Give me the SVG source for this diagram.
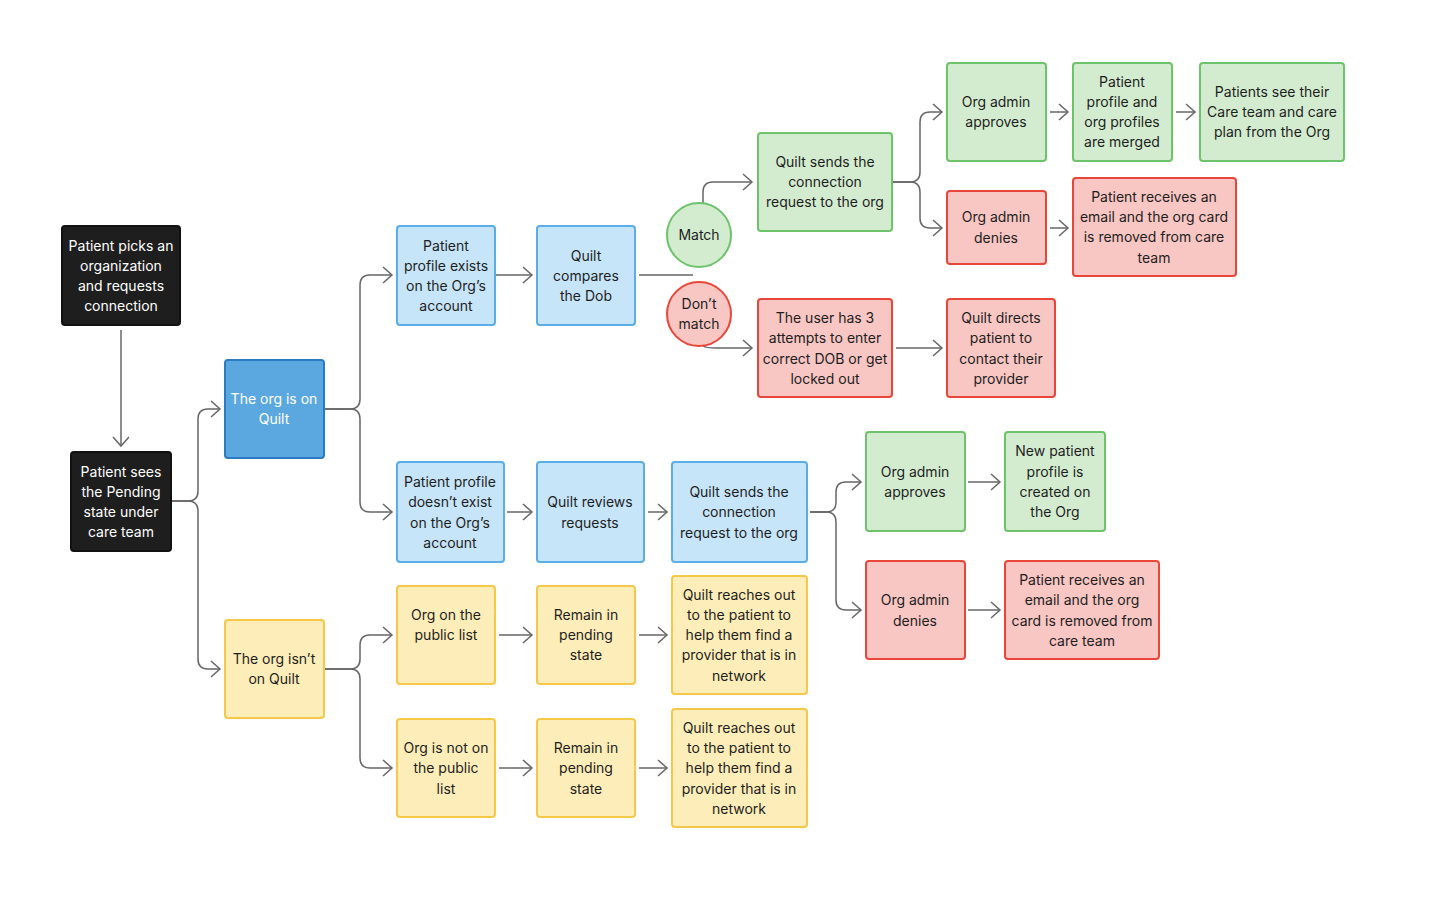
<svg xmlns="http://www.w3.org/2000/svg" width="1447" height="900" viewBox="0 0 1447 900">
<style>
text{font-family:Inter,"Noto Sans","Liberation Sans",sans-serif;font-size:14px;fill:#1e1e1e;text-anchor:middle}
.k rect{fill:#1e1e1e;stroke:#111}.k text{fill:#fff}
.d rect{fill:#5ba8e0;stroke:#2a7bc4}.d text{fill:#fff}
.b rect{fill:#c6e5f8;stroke:#5aade6}
.g rect,.g circle{fill:#d3ecd0;stroke:#6cc36a}
.r rect,.r circle{fill:#f8c6c3;stroke:#e8463a}
.y rect{fill:#fdedb8;stroke:#f5c84a}
rect,circle{stroke-width:2}
#c path{fill:none;stroke:#666;stroke-width:1.5}
</style>
<defs><marker id="a" markerUnits="userSpaceOnUse" markerWidth="14" markerHeight="20" refX="10" refY="10" orient="auto"><path d="M1,2 L10,10 L1,18" fill="none" stroke="#666" stroke-width="1.5"/></marker></defs>
<rect width="1447" height="900" fill="#fff"/>
<g id="c">
<path d="M121,330 V446" marker-end="url(#a)"/>
<path d="M171,501 H188 Q198,501 198,491 V419 Q198,409 208,409 H220" marker-end="url(#a)"/>
<path d="M171,501 H188 Q198,501 198,511 V659 Q198,669 208,669 H220" marker-end="url(#a)"/>
<path d="M324,409 H350 Q360,409 360,399 V285 Q360,275 370,275 H392" marker-end="url(#a)"/>
<path d="M324,409 H350 Q360,409 360,419 V502 Q360,512 370,512 H392" marker-end="url(#a)"/>
<path d="M324,669 H350 Q360,669 360,659 V645 Q360,635 370,635 H392" marker-end="url(#a)"/>
<path d="M324,669 H350 Q360,669 360,679 V758 Q360,768 370,768 H392" marker-end="url(#a)"/>
<path d="M495,275 H532" marker-end="url(#a)"/>
<path d="M639,275 H693"/>
<path d="M703,203 V192 Q703,182 713,182 H752" marker-end="url(#a)"/>
<path d="M703,346 Q706,348 716,348 H752" marker-end="url(#a)"/>
<path d="M892,182 H910 Q920,182 920,172 V122 Q920,112 930,112 H942" marker-end="url(#a)"/>
<path d="M892,182 H910 Q920,182 920,192 V218 Q920,228 930,228 H942" marker-end="url(#a)"/>
<path d="M1050,112 H1068" marker-end="url(#a)"/>
<path d="M1176,112 H1195" marker-end="url(#a)"/>
<path d="M1050,228 H1068" marker-end="url(#a)"/>
<path d="M896,348 H942" marker-end="url(#a)"/>
<path d="M507,512 H532" marker-end="url(#a)"/>
<path d="M648,512 H667" marker-end="url(#a)"/>
<path d="M810,512 H826 Q836,512 836,502 V492 Q836,482 846,482 H861" marker-end="url(#a)"/>
<path d="M810,512 H826 Q836,512 836,522 V600 Q836,610 846,610 H861" marker-end="url(#a)"/>
<path d="M968,482 H1000" marker-end="url(#a)"/>
<path d="M968,610 H1000" marker-end="url(#a)"/>
<path d="M499,635 H532" marker-end="url(#a)"/>
<path d="M639,635 H667" marker-end="url(#a)"/>
<path d="M499,768 H532" marker-end="url(#a)"/>
<path d="M639,768 H667" marker-end="url(#a)"/>
</g>
<g id="n1" class="k"><rect x="62" y="226" width="118" height="99" rx="3"/><text x="121" y="251">Patient picks an</text><text x="121" y="271">organization</text><text x="121" y="291">and requests</text><text x="121" y="311">connection</text></g>
<g id="n2" class="k"><rect x="71" y="452" width="100" height="99" rx="3"/><text x="121" y="477">Patient sees</text><text x="121" y="497">the Pending</text><text x="121" y="517">state under</text><text x="121" y="537">care team</text></g>
<g id="n3" class="d"><rect x="225" y="360" width="99" height="98" rx="3"/><text x="274" y="404">The org is on</text><text x="274" y="424">Quilt</text></g>
<g id="n4" class="y"><rect x="225" y="620" width="99" height="98" rx="3"/><text x="274" y="664">The org isn’t</text><text x="274" y="684">on Quilt</text></g>
<g id="n5" class="b"><rect x="397" y="226" width="98" height="99" rx="3"/><text x="446" y="251">Patient</text><text x="446" y="271">profile exists</text><text x="446" y="291">on the Org’s</text><text x="446" y="311">account</text></g>
<g id="n6" class="b"><rect x="537" y="226" width="98" height="99" rx="3"/><text x="586" y="261">Quilt</text><text x="586" y="281">compares</text><text x="586" y="301">the Dob</text></g>
<g id="n7" class="g"><circle cx="699" cy="235" r="32"/><text x="699" y="240">Match</text></g>
<g id="n8" class="r"><circle cx="699" cy="314" r="32"/><text x="699" y="309">Don’t</text><text x="699" y="329">match</text></g>
<g id="n9" class="g"><rect x="758" y="133" width="134" height="98" rx="3"/><text x="825" y="167">Quilt sends the</text><text x="825" y="187">connection</text><text x="825" y="207">request to the org</text></g>
<g id="n10" class="g"><rect x="947" y="63" width="99" height="98" rx="3"/><text x="996" y="107">Org admin</text><text x="996" y="127">approves</text></g>
<g id="n11" class="g"><rect x="1073" y="63" width="99" height="98" rx="3"/><text x="1122" y="87">Patient</text><text x="1122" y="107">profile and</text><text x="1122" y="127">org profiles</text><text x="1122" y="147">are merged</text></g>
<g id="n12" class="g"><rect x="1200" y="63" width="144" height="98" rx="3"/><text x="1272" y="97">Patients see their</text><text x="1272" y="117">Care team and care</text><text x="1272" y="137">plan from the Org</text></g>
<g id="n13" class="r"><rect x="947" y="191" width="99" height="73" rx="3"/><text x="996" y="222">Org admin</text><text x="996" y="243">denies</text></g>
<g id="n14" class="r"><rect x="1073" y="178" width="163" height="98" rx="3"/><text x="1154" y="202">Patient receives an</text><text x="1154" y="222">email and the org card</text><text x="1154" y="242">is removed from care</text><text x="1154" y="263">team</text></g>
<g id="n15" class="r"><rect x="758" y="299" width="134" height="98" rx="3"/><text x="825" y="323">The user has 3</text><text x="825" y="343">attempts to enter</text><text x="825" y="364">correct DOB or get</text><text x="825" y="384">locked out</text></g>
<g id="n16" class="r"><rect x="947" y="299" width="108" height="98" rx="3"/><text x="1001" y="323">Quilt directs</text><text x="1001" y="343">patient to</text><text x="1001" y="364">contact their</text><text x="1001" y="384">provider</text></g>
<g id="n17" class="b"><rect x="397" y="462" width="107" height="100" rx="3"/><text x="450" y="487">Patient profile</text><text x="450" y="507">doesn’t exist</text><text x="450" y="528">on the Org’s</text><text x="450" y="548">account</text></g>
<g id="n18" class="b"><rect x="537" y="462" width="107" height="100" rx="3"/><text x="590" y="507">Quilt reviews</text><text x="590" y="528">requests</text></g>
<g id="n19" class="b"><rect x="672" y="462" width="135" height="100" rx="3"/><text x="739" y="497">Quilt sends the</text><text x="739" y="517">connection</text><text x="739" y="538">request to the org</text></g>
<g id="n20" class="g"><rect x="866" y="432" width="99" height="99" rx="3"/><text x="915" y="477">Org admin</text><text x="915" y="497">approves</text></g>
<g id="n21" class="g"><rect x="1005" y="432" width="100" height="99" rx="3"/><text x="1055" y="456">New patient</text><text x="1055" y="477">profile is</text><text x="1055" y="497">created on</text><text x="1055" y="517">the Org</text></g>
<g id="n22" class="r"><rect x="866" y="561" width="99" height="98" rx="3"/><text x="915" y="605">Org admin</text><text x="915" y="626">denies</text></g>
<g id="n23" class="r"><rect x="1005" y="561" width="154" height="98" rx="3"/><text x="1082" y="585">Patient receives an</text><text x="1082" y="605">email and the org</text><text x="1082" y="626">card is removed from</text><text x="1082" y="646">care team</text></g>
<g id="n24" class="y"><rect x="397" y="586" width="98" height="98" rx="3"/><text x="446" y="620">Org on the</text><text x="446" y="640">public list</text></g>
<g id="n25" class="y"><rect x="537" y="586" width="98" height="98" rx="3"/><text x="586" y="620">Remain in</text><text x="586" y="640">pending</text><text x="586" y="660">state</text></g>
<g id="n26" class="y"><rect x="672" y="576" width="135" height="118" rx="3"/><text x="739" y="600">Quilt reaches out</text><text x="739" y="620">to the patient to</text><text x="739" y="640">help them find a</text><text x="739" y="660">provider that is in</text><text x="739" y="681">network</text></g>
<g id="n27" class="y"><rect x="397" y="719" width="98" height="98" rx="3"/><text x="446" y="753">Org is not on</text><text x="446" y="773">the public</text><text x="446" y="794">list</text></g>
<g id="n28" class="y"><rect x="537" y="719" width="98" height="98" rx="3"/><text x="586" y="753">Remain in</text><text x="586" y="773">pending</text><text x="586" y="794">state</text></g>
<g id="n29" class="y"><rect x="672" y="709" width="135" height="118" rx="3"/><text x="739" y="733">Quilt reaches out</text><text x="739" y="753">to the patient to</text><text x="739" y="773">help them find a</text><text x="739" y="794">provider that is in</text><text x="739" y="814">network</text></g>
</svg>
